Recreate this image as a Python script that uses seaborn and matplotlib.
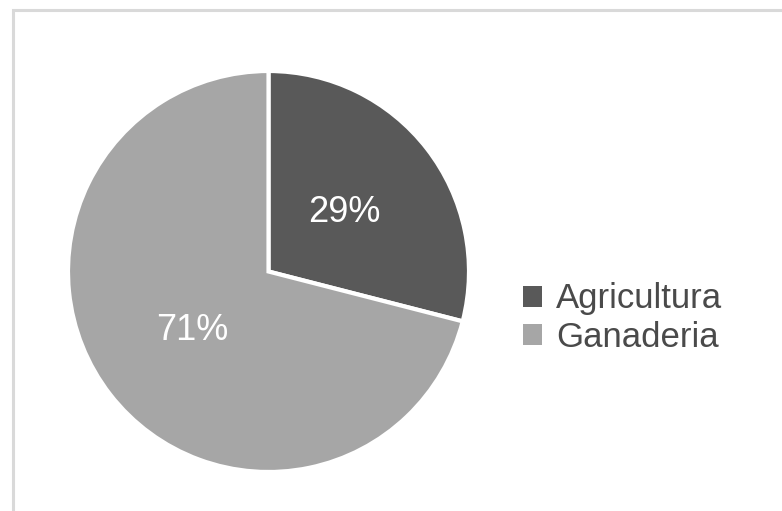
import matplotlib
matplotlib.use("Agg")
import matplotlib.pyplot as plt
import seaborn as sns
from matplotlib.patches import Rectangle, Patch

categories = ["Agricultura", "Ganaderia"]
values = [29, 71]
colors = ["#595959", "#a6a6a6"]

sns.set_theme(style="white")
plt.rcParams['font.family'] = ['Liberation Sans', 'DejaVu Sans']

fig = plt.figure(figsize=(7.82, 5.11), dpi=100)
fig.patch.set_facecolor("white")

# outer frame
fig.patches.append(Rectangle((13/782, -0.01), 1.0, (511-10)/511 + 0.01,
                             transform=fig.transFigure, fill=False,
                             edgecolor="#d9d9d9", linewidth=2.2))

ax = fig.add_axes([68/782, 39/511, 401/782, 401/511])
wedges, texts, autotexts = ax.pie(
    values, colors=colors, startangle=90, counterclock=False,
    autopct=lambda p: f"{p:.0f}%", pctdistance=0.48,
    wedgeprops=dict(edgecolor="white", linewidth=3),
    textprops=dict(color="white", fontsize=26))
ax.set_xlim(-1, 1)
ax.set_ylim(-1, 1)
ax.set_aspect("equal")

handles = [Patch(facecolor=c, edgecolor="none") for c in colors]
fig.legend(handles, categories, loc="center left",
           bbox_to_anchor=(492/782, 1 - 318/511), frameon=False,
           fontsize=25, handlelength=0.55, handleheight=0.55,
           handletextpad=0.4, labelspacing=0.15, labelcolor="#4a4a4a")

fig.savefig("out.png", dpi=100)
